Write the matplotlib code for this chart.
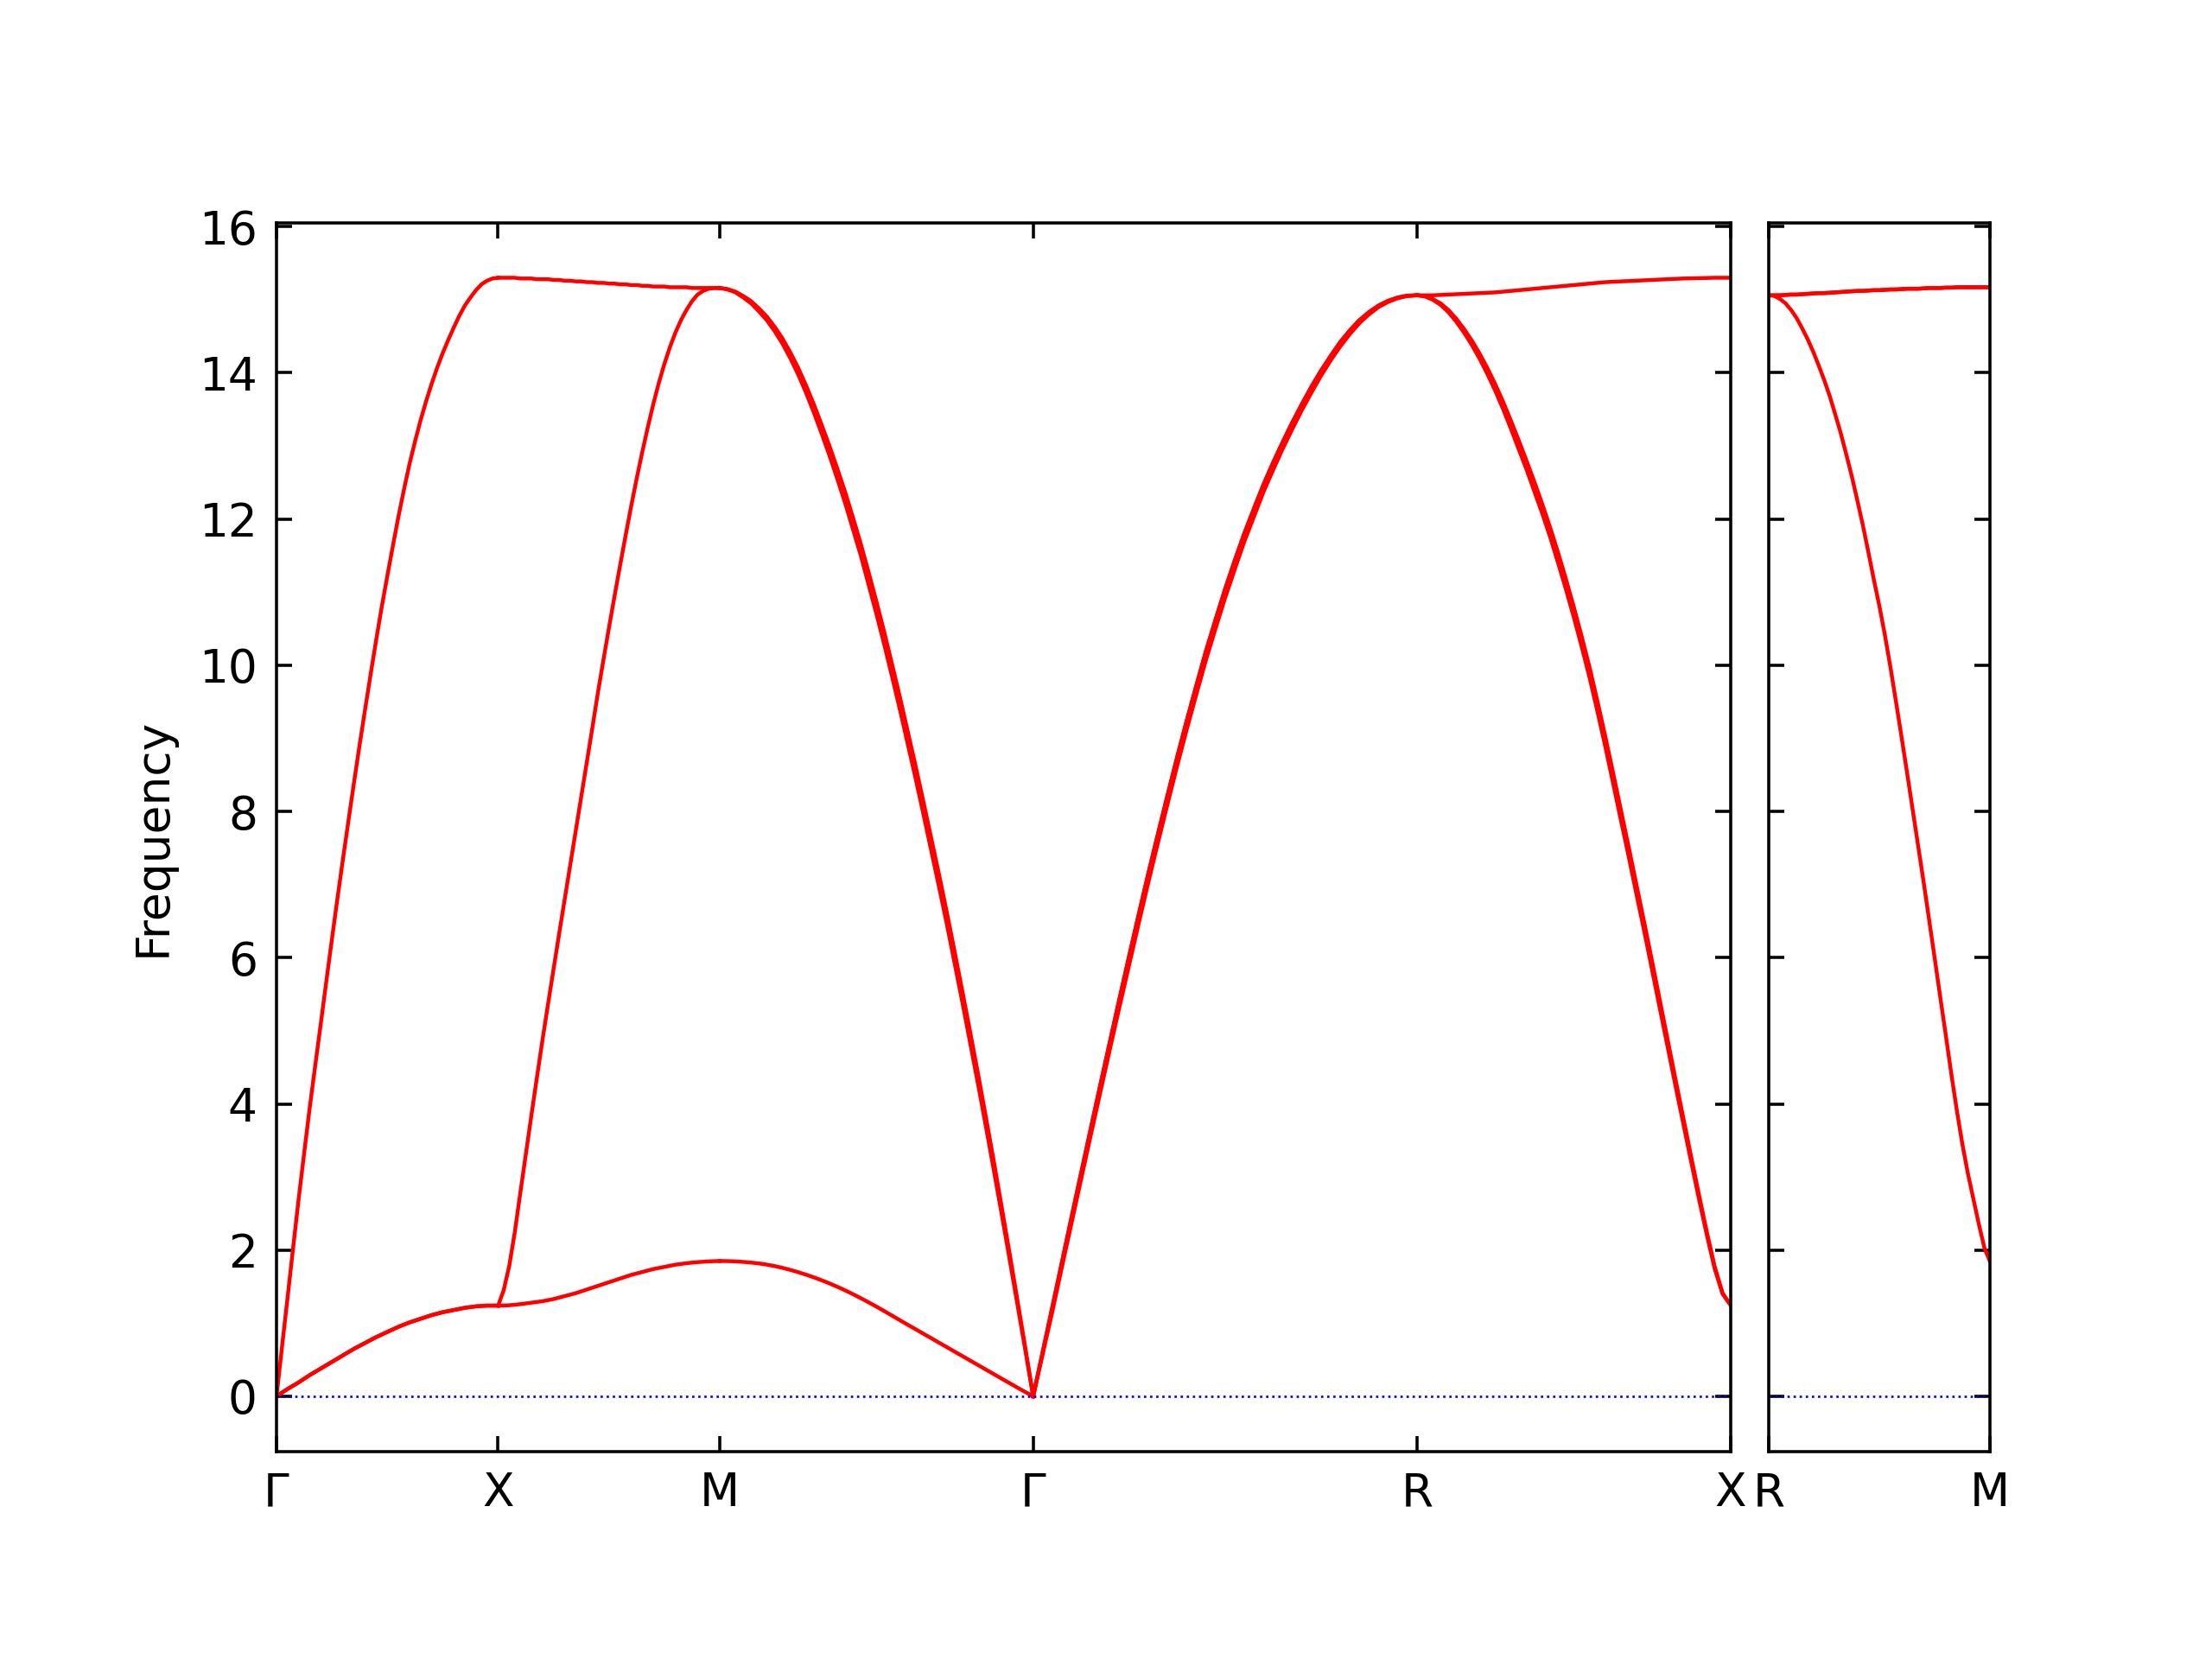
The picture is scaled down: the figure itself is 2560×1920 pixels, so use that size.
import matplotlib.pyplot as plt
import numpy as np

# Band path of a simple cubic lattice, segment lengths in units of 2pi/a
main_labels = ["Γ", "X", "M", "Γ", "R", "X"]
main_lengths = [0.5, 0.5, 0.7071, 0.8660, 0.7071]
side_labels = ["R", "M"]
side_lengths = [0.5]

# Frequencies, 41 evenly spaced q-points per segment

# Gamma - X
gx_la = [0, 0.68, 1.35, 2.03, 2.70, 3.33, 3.95, 4.53, 5.10, 5.68, 6.25,
         6.81, 7.35, 7.88, 8.40, 8.91, 9.40, 9.88, 10.35, 10.80, 11.22,
         11.63, 12.03, 12.40, 12.75, 13.06, 13.35, 13.61, 13.85, 14.07, 14.27,
         14.45, 14.62, 14.78, 14.92, 15.03, 15.13, 15.21, 15.26, 15.29, 15.30]
gx_ta = [0, 0.05, 0.10, 0.145, 0.19, 0.24, 0.29, 0.335, 0.38, 0.425, 0.47,
         0.515, 0.56, 0.605, 0.65, 0.69, 0.73, 0.77, 0.81, 0.845, 0.88,
         0.915, 0.95, 0.98, 1.01, 1.035, 1.06, 1.085, 1.11, 1.13, 1.15,
         1.165, 1.18, 1.195, 1.21, 1.22, 1.23, 1.235, 1.24, 1.24, 1.24]

# X - M
xm_top = [15.30, 15.30, 15.30, 15.30, 15.29, 15.29, 15.29, 15.28, 15.28, 15.28, 15.27,
          15.27, 15.26, 15.26, 15.25, 15.25, 15.24, 15.24, 15.23, 15.23, 15.22,
          15.22, 15.21, 15.21, 15.20, 15.20, 15.19, 15.19, 15.18, 15.18, 15.18,
          15.17, 15.17, 15.17, 15.17, 15.16, 15.16, 15.16, 15.16, 15.16, 15.16]
xm_mid = [1.24, 1.45, 1.78, 2.24, 2.78, 3.31, 3.84, 4.36, 4.87, 5.36, 5.84,
          6.32, 6.79, 7.26, 7.73, 8.20, 8.67, 9.14, 9.62, 10.07, 10.51,
          10.94, 11.36, 11.77, 12.17, 12.55, 12.91, 13.25, 13.57, 13.86, 14.12,
          14.35, 14.55, 14.72, 14.86, 14.98, 15.07, 15.12, 15.15, 15.16, 15.16]
xm_low = [1.24, 1.241, 1.245, 1.252, 1.26, 1.27, 1.28, 1.29, 1.30, 1.315, 1.33,
          1.35, 1.37, 1.39, 1.41, 1.435, 1.46, 1.485, 1.51, 1.535, 1.56,
          1.585, 1.61, 1.635, 1.66, 1.68, 1.70, 1.72, 1.74, 1.755, 1.77,
          1.785, 1.80, 1.81, 1.82, 1.828, 1.835, 1.84, 1.845, 1.848, 1.85]

# M - Gamma
mg_a = [15.16, 15.145, 15.11, 15.05, 14.98, 14.88, 14.77, 14.63, 14.47, 14.28, 14.07,
        13.83, 13.57, 13.29, 13.00, 12.69, 12.37, 12.02, 11.66, 11.27, 10.87,
        10.45, 10.01, 9.56, 9.09, 8.62, 8.13, 7.63, 7.13, 6.61, 6.07,
        5.52, 4.96, 4.39, 3.80, 3.20, 2.58, 1.95, 1.31, 0.66, 0]
mg_b = [15.16, 15.14, 15.10, 15.03, 14.95, 14.84, 14.72, 14.57, 14.40, 14.20, 13.98,
        13.73, 13.46, 13.17, 12.87, 12.55, 12.22, 11.86, 11.50, 11.10, 10.70,
        10.28, 9.84, 9.39, 8.92, 8.45, 7.96, 7.46, 6.96, 6.45, 5.91,
        5.37, 4.81, 4.25, 3.67, 3.08, 2.48, 1.87, 1.25, 0.63, 0]
mg_low = [1.85, 1.849, 1.845, 1.838, 1.829, 1.817, 1.801, 1.781, 1.757, 1.729, 1.698,
          1.664, 1.627, 1.587, 1.544, 1.498, 1.449, 1.397, 1.342, 1.285, 1.226,
          1.165, 1.103, 1.040, 0.978, 0.917, 0.855, 0.794, 0.732, 0.671, 0.609,
          0.548, 0.486, 0.425, 0.363, 0.302, 0.240, 0.179, 0.118, 0.058, 0]

# Gamma - R
gr_ta = [0, 0.61, 1.22, 1.835, 2.45, 3.055, 3.66, 4.26, 4.85, 5.44, 6.02,
         6.59, 7.15, 7.69, 8.22, 8.74, 9.24, 9.72, 10.19, 10.62, 11.04,
         11.43, 11.80, 12.14, 12.47, 12.77, 13.05, 13.32, 13.57, 13.81, 14.03,
         14.23, 14.42, 14.58, 14.72, 14.83, 14.92, 14.985, 15.03, 15.055, 15.06]
gr_la = [0, 0.58, 1.16, 1.77, 2.37, 2.97, 3.57, 4.16, 4.75, 5.33, 5.90,
         6.47, 7.03, 7.57, 8.10, 8.62, 9.12, 9.60, 10.07, 10.50, 10.92,
         11.31, 11.69, 12.03, 12.37, 12.67, 12.96, 13.23, 13.49, 13.73, 13.96,
         14.17, 14.36, 14.53, 14.68, 14.80, 14.90, 14.97, 15.02, 15.05, 15.06]

# R - X
rx_top = [15.06, 15.06, 15.06, 15.065, 15.07, 15.075, 15.08, 15.085, 15.09, 15.095, 15.10,
          15.11, 15.12, 15.13, 15.14, 15.15, 15.16, 15.17, 15.18, 15.19, 15.20,
          15.21, 15.22, 15.23, 15.24, 15.245, 15.25, 15.255, 15.26, 15.265, 15.27,
          15.275, 15.28, 15.285, 15.29, 15.292, 15.295, 15.297, 15.30, 15.30, 15.30]
rx_a = [15.06, 15.05, 15.01, 14.95, 14.86, 14.74, 14.60, 14.44, 14.26, 14.06, 13.84,
        13.60, 13.34, 13.07, 12.79, 12.50, 12.20, 11.88, 11.54, 11.18, 10.80,
        10.40, 9.98, 9.52, 9.04, 8.54, 8.03, 7.52, 7.00, 6.48, 5.95,
        5.41, 4.87, 4.33, 3.80, 3.27, 2.75, 2.24, 1.77, 1.41, 1.25]
rx_b = [15.06, 15.045, 15.00, 14.93, 14.83, 14.70, 14.55, 14.38, 14.19, 13.98, 13.75,
        13.50, 13.23, 12.95, 12.67, 12.37, 12.07, 11.75, 11.40, 11.04, 10.66,
        10.26, 9.84, 9.38, 8.90, 8.40, 7.89, 7.39, 6.87, 6.36, 5.83,
        5.30, 4.77, 4.24, 3.72, 3.20, 2.69, 2.20, 1.74, 1.40, 1.25]

# R - M
rm_top = [15.06, 15.06, 15.06, 15.065, 15.07, 15.07, 15.075, 15.08, 15.085, 15.09, 15.09,
          15.095, 15.10, 15.105, 15.11, 15.115, 15.12, 15.12, 15.125, 15.13, 15.13,
          15.135, 15.14, 15.14, 15.145, 15.15, 15.15, 15.15, 15.155, 15.16, 15.16,
          15.16, 15.165, 15.165, 15.17, 15.17, 15.17, 15.17, 15.17, 15.17, 15.17]
rm_low = [15.06, 15.05, 15.01, 14.95, 14.86, 14.75, 14.61, 14.46, 14.29, 14.10, 13.90,
          13.68, 13.43, 13.17, 12.88, 12.58, 12.25, 11.91, 11.54, 11.16, 10.80,
          10.40, 9.96, 9.49, 9.01, 8.52, 8.02, 7.52, 7.02, 6.50, 5.98,
          5.45, 4.93, 4.40, 3.90, 3.44, 3.04, 2.69, 2.34, 2.02, 1.84]

main_bands = [
    [gx_la, gx_ta, gx_ta],
    [xm_top, xm_mid, xm_low],
    [mg_a, mg_b, mg_low],
    [gr_ta, gr_ta, gr_la],
    [rx_top, rx_a, rx_b],
]
side_bands = [
    [rm_top, rm_top, rm_low],
]


def plot_path(ax, lengths, bands, labels):
    start = 0.0
    ticks = [start]
    for length, seg in zip(lengths, bands):
        for freqs in seg:
            x = start + np.linspace(0, 1, len(freqs)) * length
            ax.plot(x, freqs, "r-", lw=1.0)
        start += length
        ticks.append(start)
    ax.axhline(0, color="b", ls=":", lw=0.6)
    ax.set_xlim(0, start)
    ax.set_ylim(-0.757, 16.054)
    ax.set_xticks(ticks)
    ax.set_xticklabels(labels)
    ax.set_yticks(np.arange(0, 17, 2))
    ax.tick_params(direction="in", length=4, width=0.8, top=True, right=True,
                   labelsize=12, pad=5)


fig = plt.figure(figsize=(8, 6), dpi=320)
ax1 = fig.add_axes([0.125, 0.125, 0.6573, 0.7408])
ax2 = fig.add_axes([0.7997, 0.125, 0.1, 0.7408])

plot_path(ax1, main_lengths, main_bands, main_labels)
plot_path(ax2, side_lengths, side_bands, side_labels)
ax2.tick_params(labelleft=False)

ax1.set_ylabel("Frequency", fontsize=12, labelpad=6)

fig.savefig("out.png", dpi=320)
